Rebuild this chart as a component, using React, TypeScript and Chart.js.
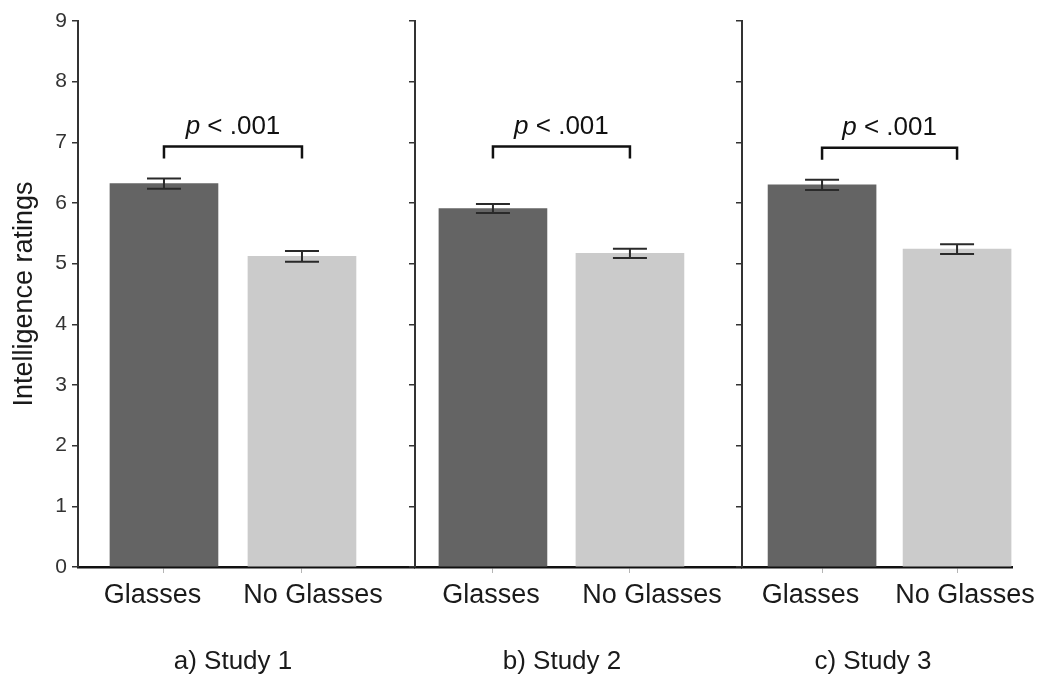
import React, { useEffect, useRef } from "react";
import { Chart, registerables } from "chart.js";

Chart.register(...registerables);

// ---- data ----
const categories = ["Glasses", "No Glasses"];
const studyLabels = ["a) Study 1", "b) Study 2", "c) Study 3"];
const glassesMeans = [6.32, 5.91, 6.3];
const noGlassesMeans = [5.12, 5.17, 5.24];
const glassesErrors = [0.085, 0.075, 0.085];
const noGlassesErrors = [0.09, 0.075, 0.08];
const bracketLevels = [6.93, 6.93, 6.91];
const pValueTexts = ["< .001", "< .001", "< .001"];
const yTickValues = [0, 1, 2, 3, 4, 5, 6, 7, 8, 9];
const yAxisTitle = "Intelligence ratings";

// ---- styles / layout ----
const FONT = '"Liberation Sans", Arial, Helvetica, sans-serif';
const barColors = ["#646464", "#cbcbcb"];
const panelLayout = [
  { left: 0, width: 415, axisWidth: 78, padRight: 0, xMin: -0.623, xMax: 1.819, showYLabels: true, titleX: 233, labelShift: [-11.5, 11] },
  { left: 405, width: 337, axisWidth: 10, padRight: 0, xMin: -0.569, xMax: 1.818, showYLabels: false, titleX: 157, labelShift: [-2, 22] },
  { left: 732, width: 306, axisWidth: 10, padRight: 26, xMin: -0.593, xMax: 1.407, showYLabels: false, titleX: 141, labelShift: [-11.5, 8] },
];

const annotPlugin = {
  id: "annot",
  afterDatasetsDraw(chart: any, _args: any, opts: any) {
    const { ctx } = chart;
    const x = chart.scales.x;
    const y = chart.scales.y;
    ctx.save();
    // error bars
    ctx.strokeStyle = "#2a2a2a";
    ctx.lineWidth = 2;
    opts.means.forEach((m: number, i: number) => {
      const cx = x.getPixelForValue(i);
      const top = y.getPixelForValue(m + opts.errs[i]);
      const bot = y.getPixelForValue(m - opts.errs[i]);
      ctx.beginPath();
      ctx.moveTo(cx, top);
      ctx.lineTo(cx, bot);
      ctx.moveTo(cx - 17, top);
      ctx.lineTo(cx + 17, top);
      ctx.moveTo(cx - 17, bot);
      ctx.lineTo(cx + 17, bot);
      ctx.stroke();
    });
    // significance bracket
    const xa = x.getPixelForValue(0);
    const xb = x.getPixelForValue(1);
    const yb = y.getPixelForValue(opts.bracket);
    ctx.strokeStyle = "#111";
    ctx.lineWidth = 2.5;
    ctx.beginPath();
    ctx.moveTo(xa, yb + 12);
    ctx.lineTo(xa, yb);
    ctx.lineTo(xb, yb);
    ctx.lineTo(xb, yb + 12);
    ctx.stroke();
    // p label
    const fi = `italic 26px ${FONT}`;
    const fn = `26px ${FONT}`;
    ctx.font = fi;
    const wp = ctx.measureText("p").width;
    const rest = " " + opts.pText;
    ctx.font = fn;
    const wr = ctx.measureText(rest).width;
    const sx = (xa + xb) / 2 - (wp + wr) / 2;
    const ty = yb - 20;
    ctx.fillStyle = "#111";
    ctx.textBaseline = "middle";
    ctx.textAlign = "left";
    ctx.font = fi;
    ctx.fillText("p", sx, ty);
    ctx.font = fn;
    ctx.fillText(rest, sx + wp, ty);
    // category labels under the axis
    ctx.fillStyle = "#1a1a1a";
    ctx.textAlign = "center";
    ctx.textBaseline = "alphabetic";
    ctx.font = `27px ${FONT}`;
    x.ticks.forEach((t: any, i: number) => {
      ctx.fillText(categories[t.value], x.getPixelForValue(t.value) + opts.labelShift[i], 603);
    });
    // panel subtitle
    ctx.font = fn;
    ctx.textBaseline = "middle";
    ctx.fillText(opts.title, opts.titleX, 662);
    ctx.restore();
  },
};

function Panel({ idx }: { idx: number }) {
  const ref = useRef<HTMLCanvasElement>(null);
  const L = panelLayout[idx];
  useEffect(() => {
    const means = [glassesMeans[idx], noGlassesMeans[idx]];
    const errs = [glassesErrors[idx], noGlassesErrors[idx]];
    const chart = new Chart(ref.current as HTMLCanvasElement, {
      type: "bar",
      data: {
        datasets: [
          {
            data: means.map((m, i) => ({ x: i, y: m })) as any,
            backgroundColor: barColors,
            borderWidth: 0,
            barThickness: 108,
          },
        ],
      },
      options: {
        animation: false,
        responsive: false,
        layout: { padding: { top: 21, right: L.padRight, left: 0, bottom: 0 } },
        plugins: {
          legend: { display: false },
          tooltip: { enabled: false },
          annot: {
            means,
            errs,
            bracket: bracketLevels[idx],
            pText: pValueTexts[idx],
            title: studyLabels[idx],
            titleX: L.titleX,
            labelShift: L.labelShift,
          },
        } as any,
        scales: {
          x: {
            type: "linear",
            offset: false,
            min: L.xMin,
            max: L.xMax,
            afterBuildTicks: (s: any) => {
              s.ticks = categories.map((_, i) => ({ value: i }));
            },
            afterFit: (s: any) => {
              s.height = 108;
            },
            ticks: {
              display: false,
              callback: (v: any) => categories[v as number] ?? "",
            },
            grid: { offset: false, drawOnChartArea: false, drawTicks: true, tickLength: 6, color: "#b5b5b5" },
            border: { display: true, color: "#111", width: 2.5 },
          },
          y: {
            type: "linear",
            min: 0,
            max: 9,
            afterBuildTicks: (s: any) => {
              s.ticks = yTickValues.map((v) => ({ value: v }));
            },
            afterFit: (s: any) => {
              s.width = L.axisWidth;
            },
            ticks: {
              display: L.showYLabels,
              font: { family: FONT, size: 21 },
              color: "#333",
              padding: 5,
            },
            grid: { drawOnChartArea: false, drawTicks: true, tickLength: 6, color: "#333", lineWidth: 1.5 },
            border: { display: true, color: "#333", width: 2 },
            title: {
              display: L.showYLabels,
              text: yAxisTitle,
              font: { family: FONT, size: 27 },
              color: "#1a1a1a",
              padding: { top: 8, bottom: 0 },
            },
          },
        } as any,
      },
      plugins: [annotPlugin as any],
    });
    return () => chart.destroy();
  }, [idx]);
  return (
    <canvas
      ref={ref}
      width={L.width}
      height={675}
      style={{ position: "absolute", left: L.left, top: 0, width: L.width, height: 675 }}
    />
  );
}

export default function App() {
  return (
    <div style={{ position: "absolute", left: 0, top: 0, width: 1038, height: 675, background: "#fff" }}>
      {panelLayout.map((_, i) => (
        <Panel key={i} idx={i} />
      ))}
    </div>
  );
}
